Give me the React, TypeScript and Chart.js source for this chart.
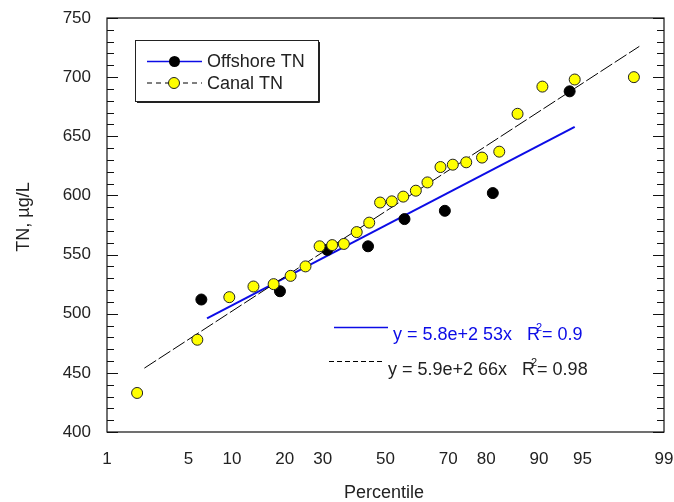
import React, { useEffect, useRef } from "react";
import { Chart, registerables } from "chart.js";

Chart.register(...registerables);

// ---- data ----
const percentileTicks = [1, 5, 10, 20, 30, 50, 70, 80, 90, 95, 99];
const tnMin = 400;
const tnMax = 750;
const tnStep = 50;

const offshorePct = [6.2, 18.9, 31.3, 44.2, 56.3, 69.0, 81.5, 93.8];
const offshoreTN = [512, 519, 554, 557, 580, 587, 602, 688];

const canalPct = [1.9, 5.8, 9.6, 13.5, 17.5, 21.4, 25.2, 29.1, 32.8, 36.4, 40.5, 44.6, 48.2, 52.1, 55.9, 60.0, 63.7, 67.7, 71.3, 75.0, 79.0, 82.9, 86.5, 90.5, 94.3, 98.1];
const canalTN = [433, 478, 514, 523, 525, 532, 540, 557, 558, 559, 569, 577, 594, 595, 599, 604, 611, 624, 626, 628, 632, 637, 669, 692, 698, 700];

const offshoreFitPct = [6.8, 94.3];
const offshoreFitTN = [496, 658];
const canalFitPct = [2.2, 98.3];
const canalFitTN = [454, 726];

const legendLabels = ["Offshore TN", "Canal TN"];
const offshoreEq = ["y = 5.8e+2 53x   R", "2", "= 0.9"];
const canalEq = ["y = 5.9e+2 66x   R", "2", "= 0.98"];
const xTitle = "Percentile";
const yTitle = "TN, \u00b5g/L";

const FONT = "'Liberation Sans', Arial, Helvetica, sans-serif";
const BLUE = "#0c0ce6";
const YELLOW = "#ffff00";

// inverse normal CDF (probability axis transform)
function probit(p: number): number {
  const a = [-39.69683028665376, 220.9460984245205, -275.9285104469687, 138.357751867269, -30.66479806614716, 2.506628277459239];
  const b = [-54.47609879822406, 161.5858368580409, -155.6989798598866, 66.80131188771972, -13.28068155288572];
  const c = [-0.007784894002430293, -0.3223964580411365, -2.400758277161838, -2.549732539343734, 4.374664141464968, 2.938163982698783];
  const d = [0.007784695709041462, 0.3224671290700398, 2.445134137142996, 3.754408661907416];
  const pl = 0.02425;
  if (p < pl) {
    const q = Math.sqrt(-2 * Math.log(p));
    return (((((c[0] * q + c[1]) * q + c[2]) * q + c[3]) * q + c[4]) * q + c[5]) / ((((d[0] * q + d[1]) * q + d[2]) * q + d[3]) * q + 1);
  }
  if (p <= 1 - pl) {
    const q = p - 0.5;
    const r = q * q;
    return ((((((a[0] * r + a[1]) * r + a[2]) * r + a[3]) * r + a[4]) * r + a[5]) * q) / (((((b[0] * r + b[1]) * r + b[2]) * r + b[3]) * r + b[4]) * r + 1);
  }
  const q = Math.sqrt(-2 * Math.log(1 - p));
  return -(((((c[0] * q + c[1]) * q + c[2]) * q + c[3]) * q + c[4]) * q + c[5]) / ((((d[0] * q + d[1]) * q + d[2]) * q + d[3]) * q + 1);
}

const toPts = (pct: number[], vals: number[]) => pct.map((p, i) => ({ x: probit(p / 100), y: vals[i] }));

const zeroPad = (s: any) => {
  s.paddingLeft = 0;
  s.paddingRight = 0;
  s.paddingTop = 0;
  s.paddingBottom = 0;
};

const decorPlugin = {
  id: "decor",
  afterDraw(chart: any) {
    const ctx: CanvasRenderingContext2D = chart.ctx;
    const { left, right, top, bottom } = chart.chartArea;
    const ys = chart.scales.y;
    ctx.save();
    // frame
    ctx.strokeStyle = "#111";
    ctx.lineWidth = 1.2;
    ctx.strokeRect(left, top, right - left, bottom - top);
    // y ticks (inward, both sides)
    ctx.lineWidth = 1;
    for (let v = tnMin; v <= tnMax; v += 10) {
      const py = Math.round(ys.getPixelForValue(v)) + 0.5;
      const len = v % tnStep === 0 ? 11 : 7;
      ctx.beginPath();
      ctx.moveTo(left, py);
      ctx.lineTo(left + len, py);
      ctx.moveTo(right, py);
      ctx.lineTo(right - len, py);
      ctx.stroke();
    }
    // axis titles
    ctx.fillStyle = "#222";
    ctx.font = `18px ${FONT}`;
    ctx.textAlign = "center";
    ctx.textBaseline = "alphabetic";
    ctx.fillText(xTitle, 384, 498);
    ctx.save();
    ctx.translate(29, 217);
    ctx.rotate(-Math.PI / 2);
    ctx.fillText(yTitle, 0, 0);
    ctx.restore();

    // legend box
    const bx = 135, by = 40, bw = 183, bh = 61;
    ctx.strokeStyle = "#222";
    ctx.lineWidth = 1;
    ctx.strokeRect(bx + 0.5, by + 0.5, bw, bh);
    ctx.beginPath();
    ctx.moveTo(bx + 2, by + bh + 1.5);
    ctx.lineTo(bx + bw + 1.5, by + bh + 1.5);
    ctx.lineTo(bx + bw + 1.5, by + 2);
    ctx.stroke();
    const rows = [61.5, 83];
    // row 1: offshore
    ctx.strokeStyle = BLUE;
    ctx.lineWidth = 1.5;
    ctx.beginPath();
    ctx.moveTo(147, rows[0]);
    ctx.lineTo(202, rows[0]);
    ctx.stroke();
    ctx.fillStyle = "#000";
    ctx.beginPath();
    ctx.arc(174.5, rows[0], 5.5, 0, Math.PI * 2);
    ctx.fill();
    // row 2: canal
    ctx.strokeStyle = "#000";
    ctx.lineWidth = 1;
    ctx.setLineDash([5, 4]);
    ctx.beginPath();
    ctx.moveTo(147, rows[1]);
    ctx.lineTo(202, rows[1]);
    ctx.stroke();
    ctx.setLineDash([]);
    ctx.fillStyle = YELLOW;
    ctx.beginPath();
    ctx.arc(174, rows[1], 5.5, 0, Math.PI * 2);
    ctx.fill();
    ctx.strokeStyle = "#222";
    ctx.stroke();
    ctx.fillStyle = "#222";
    ctx.font = `18px ${FONT}`;
    ctx.textAlign = "left";
    ctx.textBaseline = "middle";
    ctx.fillText(legendLabels[0], 207, rows[0] + 1);
    ctx.fillText(legendLabels[1], 207, rows[1] + 1);

    // regression annotations
    const drawEq = (parts: string[], x: number, y: number, color: string) => {
      ctx.fillStyle = color;
      ctx.font = `18px ${FONT}`;
      ctx.textAlign = "left";
      ctx.textBaseline = "alphabetic";
      ctx.fillText(parts[0], x, y);
      const w = ctx.measureText(parts[0]).width;
      ctx.font = `11px ${FONT}`;
      ctx.fillText(parts[1], x + w - 4, y - 9);
      ctx.font = `18px ${FONT}`;
      ctx.fillText(parts[2], x + w + 2, y);
    };
    ctx.strokeStyle = BLUE;
    ctx.lineWidth = 1.5;
    ctx.beginPath();
    ctx.moveTo(334, 327.5);
    ctx.lineTo(388, 327.5);
    ctx.stroke();
    drawEq(offshoreEq, 393, 340, BLUE);
    ctx.strokeStyle = "#000";
    ctx.lineWidth = 1;
    ctx.setLineDash([5, 3]);
    ctx.beginPath();
    ctx.moveTo(329, 361.5);
    ctx.lineTo(384, 361.5);
    ctx.stroke();
    ctx.setLineDash([]);
    drawEq(canalEq, 388, 375, "#222");
    ctx.restore();
  },
};

export default function App() {
  const ref = useRef<HTMLCanvasElement | null>(null);
  useEffect(() => {
    if (!ref.current) return;
    const chart = new Chart(ref.current, {
      type: "scatter",
      data: {
        datasets: [
          {
            label: "Canal TN",
            data: toPts(canalPct, canalTN),
            backgroundColor: YELLOW,
            borderColor: "#222",
            borderWidth: 1,
            pointRadius: 5.5,
            showLine: false,
          },
          {
            label: "Offshore TN",
            data: toPts(offshorePct, offshoreTN),
            backgroundColor: "#000",
            borderColor: "#000",
            borderWidth: 1,
            pointRadius: 5.5,
            showLine: false,
          },
          {
            label: "Canal fit",
            data: toPts(canalFitPct, canalFitTN),
            showLine: true,
            borderColor: "#000",
            borderWidth: 1,
            borderDash: [14, 3],
            pointRadius: 0,
            fill: false,
          },
          {
            label: "Offshore fit",
            data: toPts(offshoreFitPct, offshoreFitTN),
            showLine: true,
            borderColor: BLUE,
            borderWidth: 2,
            pointRadius: 0,
            fill: false,
          },
        ],
      },
      options: {
        animation: false,
        responsive: false,
        devicePixelRatio: 1,
        layout: { padding: { top: 18, right: 10, left: 0, bottom: 0 } },
        plugins: { legend: { display: false }, tooltip: { enabled: false } },
        scales: {
          x: {
            type: "linear",
            min: probit(percentileTicks[0] / 100),
            max: probit(percentileTicks[percentileTicks.length - 1] / 100),
            grid: { display: false, drawTicks: false },
            border: { display: false },
            afterBuildTicks: (s: any) => {
              s.ticks = percentileTicks.map((p) => ({ value: probit(p / 100) }));
            },
            afterFit: (s: any) => {
              s.height = 70;
              zeroPad(s);
            },
            ticks: {
              autoSkip: false,
              maxRotation: 0,
              minRotation: 0,
              padding: 17,
              color: "#222",
              font: { family: FONT, size: 17 },
              callback: (_v: any, i: number) => String(percentileTicks[i]),
            },
          },
          y: {
            type: "linear",
            min: tnMin,
            max: tnMax,
            grid: { display: false, drawTicks: false },
            border: { display: false },
            afterFit: (s: any) => {
              s.width = 107;
              zeroPad(s);
            },
            ticks: {
              stepSize: tnStep,
              padding: 16,
              color: "#222",
              font: { family: FONT, size: 17 },
            },
          },
        },
      },
      plugins: [decorPlugin],
    } as any);
    return () => chart.destroy();
  }, []);
  return (
    <div style={{ position: "absolute", left: 0, top: 0, width: 674, height: 502, background: "#fff" }}>
      <canvas ref={ref} width={674} height={502} style={{ display: "block" }} />
    </div>
  );
}
